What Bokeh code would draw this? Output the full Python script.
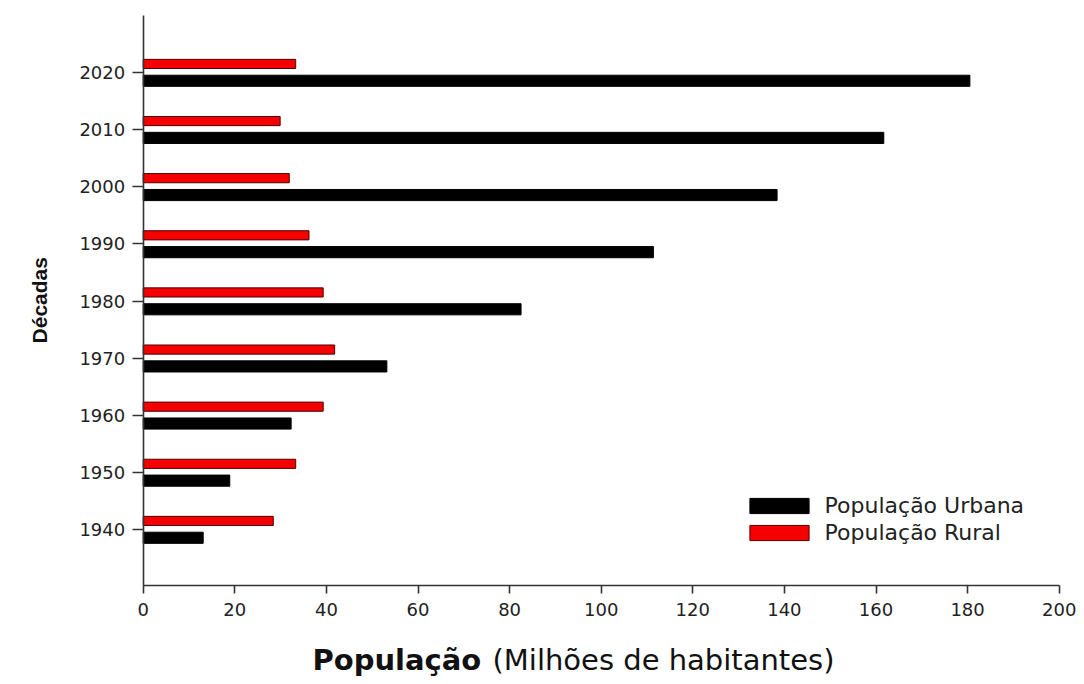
import math
from bokeh.plotting import figure
from bokeh.models import ColumnDataSource, Range1d, FixedTicker, Legend, LegendItem, Label
from bokeh.embed import file_html
from bokeh.resources import INLINE

decades = [1940, 1950, 1960, 1970, 1980, 1990, 2000, 2010, 2020]
urbana = [13.1, 18.9, 32.3, 53.2, 82.5, 111.4, 138.4, 161.7, 180.5]
rural = [28.4, 33.3, 39.3, 41.8, 39.3, 36.2, 31.9, 29.9, 33.3]
x_ticks = [0, 20, 40, 60, 80, 100, 120, 140, 160, 180, 200]

# canvas geometry (pixels) -> data ranges so the frame fills the canvas
W, H = 1080, 680
X0_PX, XS = 142.7, 4.58          # px of x=0, px per unit
Y2020_PX, YS = 72.0, 5.7125      # px of 2020 tick, px per year
x_start = -X0_PX / XS
x_end = (W - X0_PX) / XS
y_end = 2020 + Y2020_PX / YS
y_start = 2020 - (H - Y2020_PX) / YS
x_axis_y = 2020 - (584.5 - Y2020_PX) / YS
y_axis_top = 2020 - (15 - Y2020_PX) / YS

src = ColumnDataSource(dict(
    y_u=[d - 1.45 for d in decades],
    y_r=[d + 1.5 for d in decades],
    urbana=urbana,
    rural=rural,
))

p = figure(width=W, height=H, output_backend="svg", toolbar_location=None,
           x_range=Range1d(x_start, x_end), y_range=Range1d(y_start, y_end),
           min_border=0)
p.title.visible = False
p.outline_line_color = None
p.grid.grid_line_color = None
p.background_fill_color = "white"
p.border_fill_color = "white"

r_u = p.hbar(y="y_u", right="urbana", left=0, height=1.95, source=src,
             fill_color="black", line_color="black", line_width=1)
r_r = p.hbar(y="y_r", right="rural", left=0, height=1.6, source=src,
             fill_color="#f40000", line_color="#500000", line_width=1)

font = "DejaVu Sans"
for ax in (p.xaxis[0], p.yaxis[0]):
    ax.axis_line_color = "#333333"
    ax.axis_line_width = 1.6
    ax.major_tick_line_color = "#333333"
    ax.major_tick_line_width = 1.6
    ax.minor_tick_line_color = None
    ax.major_tick_in = 0
    ax.major_label_text_font = font
    ax.major_label_text_font_size = "18px"
    ax.major_label_text_color = "#222222"

p.xaxis.fixed_location = x_axis_y
p.xaxis.bounds = (0, 200)
p.xaxis.ticker = FixedTicker(ticks=x_ticks)
p.xaxis.major_tick_out = 8
p.xaxis.major_label_standoff = 10

p.yaxis.fixed_location = 0
p.yaxis.bounds = (x_axis_y, y_axis_top)
p.yaxis.ticker = FixedTicker(ticks=decades)
p.yaxis.major_tick_out = 11
p.yaxis.major_label_standoff = 7

p.add_layout(Label(x=(39 - X0_PX) / XS, y=(x_axis_y + y_axis_top) / 2,
                   text="Décadas", angle=math.pi / 2, text_align="center",
                   text_baseline="middle", text_font="Liberation Sans",
                   text_font_style="bold", text_font_size="21px", text_color="#111111"))

TITLE_BASE = 659
p.add_layout(Label(x=312, y=H - TITLE_BASE, x_units="screen", y_units="screen", text="População",
                   text_font=font, text_font_style="bold", text_font_size="29px",
                   text_color="#111111", text_baseline="alphabetic"))
p.add_layout(Label(x=492, y=H - TITLE_BASE, x_units="screen", y_units="screen",
                   text="(Milhões de habitantes)", text_font=font, text_font_size="29px",
                   text_color="#111111", text_baseline="alphabetic"))

legend = Legend(items=[LegendItem(label="População Urbana", renderers=[r_u]),
                       LegendItem(label="População Rural", renderers=[r_r])],
                location=(741.6, 135), border_line_color=None, background_fill_alpha=0,
                glyph_width=74, glyph_height=19, label_text_font=font,
                label_text_font_size="22px", label_text_color="#222222",
                spacing=2, padding=0, margin=0, label_standoff=9)
p.add_layout(legend)

open("out.html", "w").write(file_html(p, INLINE))
